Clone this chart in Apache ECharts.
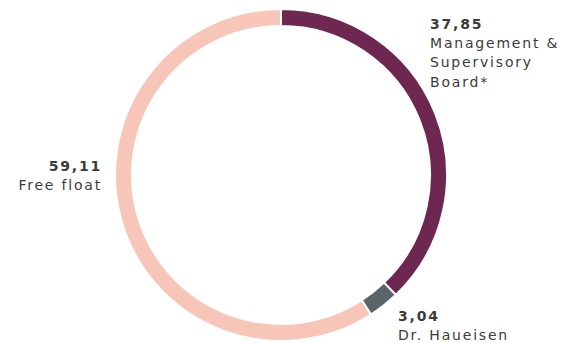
<!DOCTYPE html>
<html>
<head>
<meta charset="utf-8">
<script src="https://cdn.jsdelivr.net/npm/echarts@6/dist/echarts.min.js"></script>
<style>
  html, body { margin: 0; padding: 0; background: #fff; }
  #main { width: 571px; height: 343px; }
  /* the original labels are widely tracked */
  #main svg text { letter-spacing: 1.8px; }
</style>
</head>
<body>
<div id="main"></div>
<script>
const names = ['Management &\nSupervisory\nBoard*', 'Dr. Haueisen', 'Free float'];
const shares = [37.85, 3.04, 59.11];
const colors = ['#6e2750', '#5b6569', '#f8c6b9'];
// where each label block sits (left/right anchor)
const labelSpots = [
  { x: 430, y: 14, align: 'left' },
  { x: 398, y: 306, align: 'left' },
  { x: 102, y: 156, align: 'right' }
];

const chartDom = document.getElementById('main');
const myChart = echarts.init(chartDom, null, { renderer: 'svg' });

const option = {
  animation: false,
  series: [
    {
      type: 'pie',
      center: [281, 175],
      radius: [149, 166],
      startAngle: 90,
      clockwise: true,
      avoidLabelOverlap: false,
      itemStyle: { borderColor: '#fff', borderWidth: 2 },
      emphasis: { disabled: true },
      labelLine: { show: false },
      label: {
        show: true,
        position: 'outside',
        formatter: p => '{v|' + p.value.toFixed(2).replace('.', ',') + '}\n{n|' + p.name.split('\n').join('}\n{n|') + '}',
        rich: {
          v: { fontFamily: 'DejaVu Sans', fontSize: 14, fontWeight: 'bold', color: '#3b3b3b', lineHeight: 19 },
          n: { fontFamily: 'DejaVu Sans', fontSize: 14, color: '#3b3b3b', lineHeight: 19.5 }
        }
      },
      labelLayout: p => ({
        x: labelSpots[p.dataIndex].x,
        y: labelSpots[p.dataIndex].y,
        align: labelSpots[p.dataIndex].align,
        verticalAlign: 'top'
      }),
      data: names.map((n, i) => ({ name: n, value: shares[i], itemStyle: { color: colors[i] } }))
    }
  ]
};

option && myChart.setOption(option);
</script>
</body>
</html>
